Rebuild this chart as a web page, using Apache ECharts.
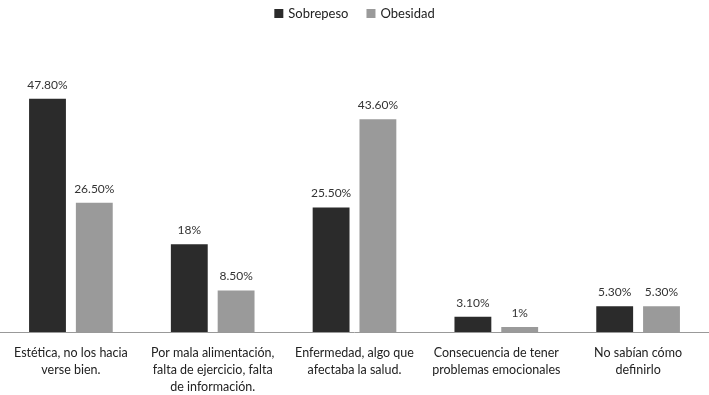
<!DOCTYPE html>
<html>
<head>
<meta charset="utf-8">
<script src="https://cdn.jsdelivr.net/npm/echarts@6/dist/echarts.min.js"></script>
<style>
  html, body { margin: 0; padding: 0; background: #fff; }
  #main { width: 709px; height: 395px; }
</style>
</head>
<body>
<div id="main"></div>
<script>
// datos
var categorias = [
  'Estética, no los hacia\nverse bien.',
  'Por mala alimentación,\nfalta de ejercicio, falta\nde información.',
  'Enfermedad, algo que\nafectaba la salud.',
  'Consecuencia de tener\nproblemas emocionales',
  'No sabían cómo\ndefinirlo'
];
var sobrepeso = [47.8, 18, 25.5, 3.1, 5.3];
var obesidad = [26.5, 8.5, 43.6, 1, 5.3];
var etiquetasSobrepeso = ['47.80%', '18%', '25.50%', '3.10%', '5.30%'];
var etiquetasObesidad = ['26.50%', '8.50%', '43.60%', '1%', '5.30%'];

var fuente = 'Lato, "Open Sans", sans-serif';
var myChart = echarts.init(document.getElementById('main'));

var option = {
  animation: false,
  textStyle: { fontFamily: fuente },
  legend: {
    top: 2,
    left: 'center',
    itemWidth: 9,
    itemHeight: 9,
    itemGap: 18,
    icon: 'rect',
    textStyle: { fontSize: 13, color: '#222', fontFamily: fuente }
  },
  grid: { left: 0, right: 0, top: 88, bottom: 62 },
  xAxis: {
    type: 'category',
    data: categorias,
    axisLine: { lineStyle: { color: '#999', width: 1 } },
    axisTick: { show: false },
    axisLabel: {
      interval: 0,
      fontSize: 12.5,
      lineHeight: 17,
      color: '#222',
      margin: 12,
      fontFamily: fuente
    }
  },
  yAxis: {
    type: 'value',
    min: 0,
    max: 50,
    show: false
  },
  series: [
    {
      name: 'Sobrepeso',
      type: 'bar',
      data: sobrepeso,
      barGap: '27%',
      barCategoryGap: '41%',
      itemStyle: { color: '#2b2b2b' },
      label: {
        show: true,
        position: 'top',
        distance: 8,
        fontSize: 12,
        color: '#333',
        fontFamily: fuente,
        formatter: function (p) { return etiquetasSobrepeso[p.dataIndex]; }
      }
    },
    {
      name: 'Obesidad',
      type: 'bar',
      data: obesidad,
      itemStyle: { color: '#9a9a9a' },
      label: {
        show: true,
        position: 'top',
        distance: 8,
        fontSize: 12,
        color: '#333',
        fontFamily: fuente,
        formatter: function (p) { return etiquetasObesidad[p.dataIndex]; }
      }
    }
  ]
};

myChart.setOption(option);
</script>
</body>
</html>
